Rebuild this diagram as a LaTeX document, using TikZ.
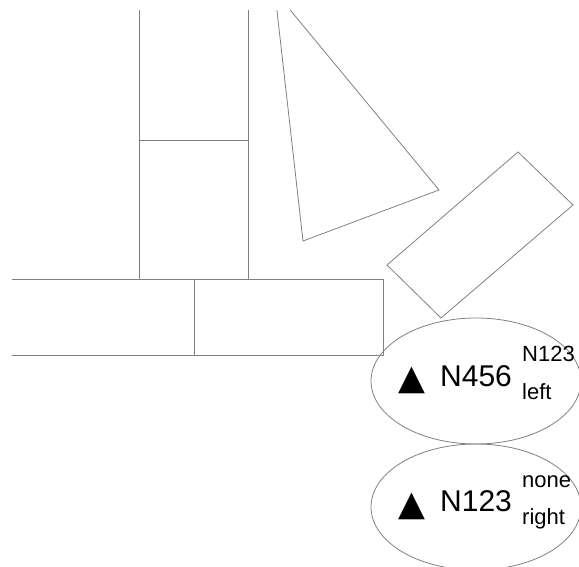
\documentclass[tikz,border=0pt]{standalone}
\usepackage{fontspec}
\setmainfont{Liberation Sans}
\newfontfamily\symfont{DejaVu Sans}
\usetikzlibrary{shapes.geometric}
\tikzset{
  shapeline/.style={draw=black!50,line width=0.8pt},
  oval/.style={shapeline,ellipse,minimum width=210pt,minimum height=126pt,inner sep=0pt},
  bigtext/.style={font=\fontsize{30}{30}\selectfont,anchor=base west,inner sep=0pt},
  smalltext/.style={font=\fontsize{22}{22}\selectfont,anchor=base west,inner sep=0pt},
  marker/.style={font=\symfont\fontsize{35}{35}\selectfont,anchor=base,inner sep=0pt}
}
\begin{document}
\begin{tikzpicture}[x=1pt,y=-1pt]
\useasboundingbox (0,0) rectangle (579,567);
\clip (12,11) rectangle (579,567);
\draw[shapeline] (139,-20) rectangle (248,140);
\draw[shapeline] (139,140) rectangle (248,279);
\draw[shapeline] (-20,279) rectangle (194,355);
\draw[shapeline] (194,279) rectangle (383.5,355);
\draw[shapeline] (274.8,-8.6) -- (303,241) -- (439,190) -- cycle;
\draw[shapeline] (518,152) -- (573,205) -- (441,318) -- (387,265) -- cycle;
\node[oval] (e1) at (476,381) {};
\node[oval] (e2) at (476,507) {};
\node[marker] (m1) at (412,389.5) {▲};
\node[bigtext] (n1) at (440,386) {N456};
\node[smalltext] (a1) at (522,361) {N123};
\node[smalltext] (b1) at (522,399) {left};
\node[marker] (m2) at (412,515.5) {▲};
\node[bigtext] (n2) at (440,511) {N123};
\node[smalltext] (a2) at (522,487) {none};
\node[smalltext] (b2) at (522,524) {right};
\end{tikzpicture}
\end{document}
